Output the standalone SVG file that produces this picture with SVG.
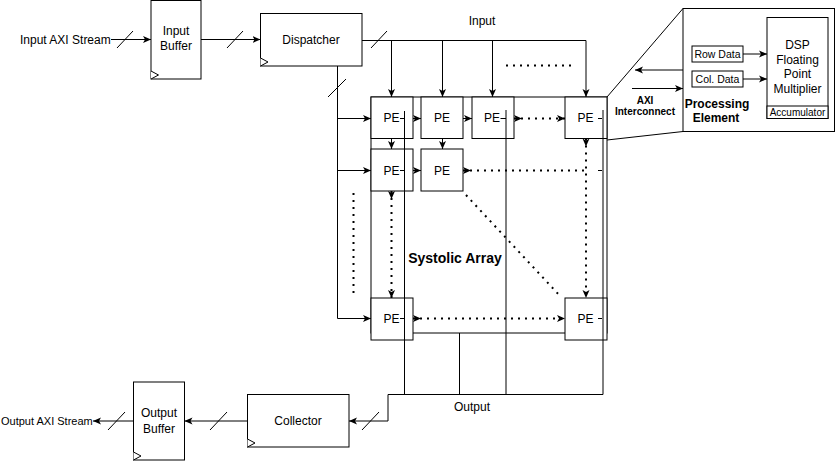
<svg xmlns="http://www.w3.org/2000/svg" width="836" height="462" viewBox="0 0 836 462">
<style>
text{font-family:"Liberation Sans",Arial,Helvetica,sans-serif;fill:#000}
.t12{font-size:12px;text-anchor:middle}
.box{fill:#fff;stroke:#000;stroke-width:1}
.clk{fill:#fff;stroke:#000;stroke-width:1}
.ln{fill:none;stroke:#000;stroke-width:1}
.ar{fill:none;stroke:#000;stroke-width:1;marker-end:url(#ah)}
.dot{fill:none;stroke:#000;stroke-width:2;stroke-dasharray:2 5}
.sl{fill:none;stroke:#000;stroke-width:1}
</style>
<defs>
<marker id="ah" viewBox="-8 -4 8 8" refX="0" refY="0" markerWidth="8" markerHeight="8" markerUnits="userSpaceOnUse" orient="auto"><path d="M0,0 L-8,-3.5 L-6,0 L-8,3.5 Z" fill="#000"/></marker>
<marker id="as" viewBox="0 -4 8 8" refX="0" refY="0" markerWidth="8" markerHeight="8" markerUnits="userSpaceOnUse" orient="auto"><path d="M8,0 L0,-3.5 L2,0 L0,3.5 Z" fill="#000"/></marker>
</defs>
<rect width="836" height="462" fill="#fff"/>

<g id="input-stream-label"><text x="20" y="43.5" font-size="12px">Input AXI Stream</text></g>
<g id="input-buffer">
<rect class="box" x="151" y="0.5" width="50" height="78.5"/>
<path class="clk" d="M151,71 L158.5,75 L151,79"/>
<text class="t12" x="176" y="35">Input</text><text class="t12" x="176" y="50">Buffer</text>
</g>
<g id="dispatcher">
<rect class="box" x="260.5" y="13.5" width="101.5" height="52.5"/>
<path class="clk" d="M260.5,58 L268,62 L260.5,66"/>
<text class="t12" x="311" y="43.5">Dispatcher</text>
</g>
<g id="systolic-array">
<rect x="371" y="97" width="236" height="236" fill="none" stroke="#000"/>
<text x="455" y="263" font-size="14px" font-weight="bold" text-anchor="middle">Systolic Array</text>
</g>
<g id="pe-r1c1"><rect class="box" x="371" y="97" width="42" height="41.5"/><text class="t12" x="391.5" y="122">PE</text></g>
<g id="pe-r1c2"><rect class="box" x="421" y="97" width="42" height="41.5"/><text class="t12" x="442" y="122">PE</text></g>
<g id="pe-r1c3"><rect class="box" x="472" y="97" width="42" height="41.5"/><text class="t12" x="492" y="122">PE</text></g>
<g id="pe-r1c4"><rect class="box" x="565" y="97" width="42" height="41.5"/><text class="t12" x="585.5" y="122">PE</text></g>
<g id="pe-r2c1"><rect class="box" x="371" y="149" width="42" height="42"/><text class="t12" x="391.5" y="174.5">PE</text></g>
<g id="pe-r2c2"><rect class="box" x="421" y="149" width="42" height="42"/><text class="t12" x="442" y="174.5">PE</text></g>
<g id="pe-r3c1"><rect class="box" x="371" y="298" width="42" height="42"/><text class="t12" x="391.5" y="322.5">PE</text></g>
<g id="pe-r3c4"><rect class="box" x="565" y="298" width="42" height="42"/><text class="t12" x="585.5" y="322.5">PE</text></g>

<g id="input-label"><text class="t12" x="482" y="25">Input</text></g>
<g id="output-label"><text class="t12" x="472" y="411">Output</text></g>

<g id="pe-detail">
<rect x="683" y="8.5" width="151.5" height="123" fill="#fff" stroke="#000"/>
<rect class="box" x="692" y="46" width="51" height="16"/><text x="717.5" y="57.5" font-size="10.5px" text-anchor="middle">Row Data</text>
<rect class="box" x="692" y="71" width="51" height="16"/><text x="717.5" y="82.5" font-size="10.5px" text-anchor="middle">Col. Data</text>
<rect class="box" x="767" y="17.5" width="61" height="101"/>
<rect class="box" x="767" y="106" width="61" height="12.5"/>
<text class="t12" x="797.5" y="49">DSP</text><text class="t12" x="797.5" y="63.5">Floating</text><text class="t12" x="797.5" y="78">Point</text><text class="t12" x="797.5" y="92.5">Multiplier</text>
<text x="797.5" y="116" font-size="10px" text-anchor="middle">Accumulator</text>
<text x="717" y="108" font-size="12px" font-weight="bold" text-anchor="middle">Processing</text>
<text x="716" y="122" font-size="12px" font-weight="bold" text-anchor="middle">Element</text>
<text x="645" y="103.5" font-size="10px" font-weight="bold" text-anchor="middle">AXI</text>
<text x="645" y="115" font-size="10px" font-weight="bold" text-anchor="middle">Interconnect</text>
</g>

<g id="collector">
<rect class="box" x="247.5" y="394.5" width="101.5" height="52.5"/>
<path class="clk" d="M247.5,439 L255,443 L247.5,447"/>
<text class="t12" x="298" y="425">Collector</text>
</g>
<g id="output-buffer">
<rect class="box" x="133.5" y="382" width="51" height="78"/>
<path class="clk" d="M133.5,452 L141,456 L133.5,460"/>
<text class="t12" x="159" y="417">Output</text><text class="t12" x="159" y="432.5">Buffer</text>
</g>
<g id="output-stream-label"><text x="1" y="425" font-size="11px">Output AXI Stream</text></g>

<g id="connectors">
<path class="ar" d="M111,39.5 H151"/><path class="sl" d="M117,48 L133,31"/>
<path class="ar" d="M201,39.5 H260.5"/><path class="sl" d="M227,48 L243,31"/>
<path class="ar" d="M362,40.5 H586 V97"/>
<path class="ar" d="M391.5,40.5 V97"/><path class="ar" d="M442.5,40.5 V97"/><path class="ar" d="M492.5,40.5 V97"/>
<path class="sl" d="M371,48 L387,31"/>
<path class="dot" d="M506,65.5 H574"/>
<path class="ar" d="M337.5,66 V318.5 H371"/>
<path class="ar" d="M337.5,118.5 H371"/><path class="ar" d="M337.5,170.5 H371"/>
<path class="sl" d="M328,97 L346,79"/>
<path class="ar" d="M413,118.5 H421"/><path class="ar" d="M463,118.5 H472"/>
<path class="dot" d="M514,118.5 H565" marker-start="url(#as)" marker-end="url(#ah)"/>
<path class="ar" d="M391.5,138.5 V149"/><path class="ar" d="M442.5,138.5 V149"/>
<path class="ar" d="M413,170.5 H421"/>
<path class="dot" d="M463,170.5 H584" marker-start="url(#as)"/>
<path class="dot" d="M586,138.5 V298" marker-start="url(#as)" marker-end="url(#ah)"/>
<path class="dot" d="M391.5,191 V298" marker-start="url(#as)" marker-end="url(#ah)"/>
<path class="dot" d="M413,318.5 H565" marker-start="url(#as)" marker-end="url(#ah)"/>
<path class="dot" d="M466,195 L561,297"/>
<path class="dot" d="M353.5,193 V298"/>
<path class="ln" d="M404.5,111 V394.5 M506,110 V394.5 M603,110 V394.5 M459.5,333 V394.5"/>
<path class="ln" d="M400,118.5 H404.5 M500.5,118.5 H506 M598,118.5 H602 M400,170.5 H404.5 M598,170.5 H602 M400,318.5 H404.5 M598,318.5 H602"/>
<path class="ln" d="M603,394.5 H388 "/>
<path class="ar" d="M388,394.5 V421 H349"/><path class="sl" d="M362,430 L379,412"/>
<path class="ar" d="M247.5,421 H184.5"/><path class="sl" d="M210,430 L227,412"/>
<path class="ar" d="M133.5,421 H93"/><path class="sl" d="M108,430 L125,412"/>
<path class="ln" d="M607,97 L683,8.5 M607,140 L683,131.5"/>
<path class="ar" d="M743,54 H767"/><path class="ar" d="M743,79 H767"/>
<path class="ar" d="M683,70 H635"/><path class="ar" d="M632,88.5 H683"/>
</g>
</svg>
